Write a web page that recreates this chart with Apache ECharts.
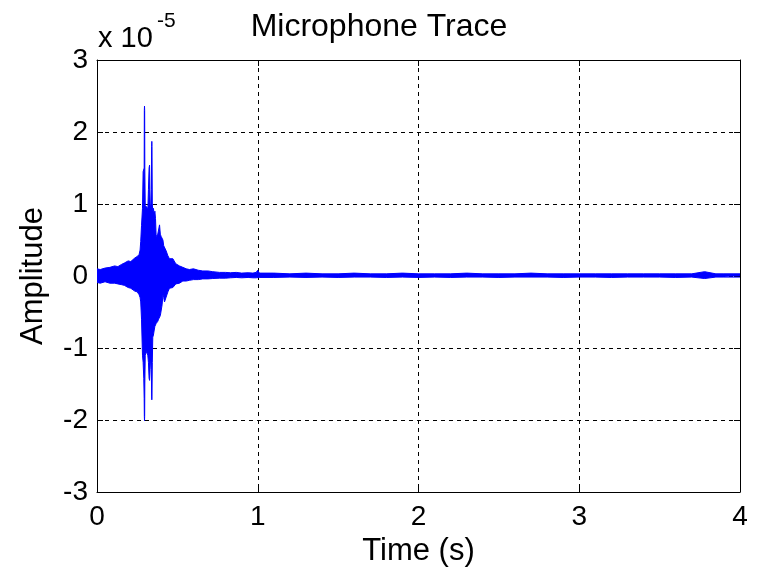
<!DOCTYPE html>
<html>
<head>
<meta charset="utf-8">
<script src="https://cdn.jsdelivr.net/npm/echarts@6/dist/echarts.min.js"></script>
<style>html,body{margin:0;padding:0;background:#fff;}#c{width:758px;height:573px;}</style>
</head>
<body>
<div id="c"></div>
<script>
// Time (s) sample positions of the trace envelope
const timeS = [0, 0.02, 0.05, 0.08, 0.11, 0.13, 0.152, 0.17, 0.194, 0.21, 0.235, 0.25, 0.262, 0.268, 0.272, 0.277, 0.283, 0.287, 0.291, 0.2935, 0.2945, 0.2955, 0.2965, 0.2975, 0.300, 0.304, 0.308, 0.312, 0.316, 0.320, 0.324, 0.327, 0.330, 0.334, 0.338, 0.340, 0.341, 0.342, 0.344, 0.347, 0.351, 0.356, 0.360, 0.364, 0.368, 0.373, 0.378, 0.383, 0.389, 0.394, 0.399, 0.405, 0.41, 0.415, 0.42, 0.43, 0.441, 0.451, 0.461, 0.472, 0.482, 0.49, 0.50, 0.513, 0.534, 0.555, 0.575, 0.6, 0.63, 0.658, 0.69, 0.72, 0.762, 0.8, 0.83, 0.866, 0.9, 0.94, 0.97, 0.99, 1.0, 1.01, 1.1, 1.2, 1.3, 1.4, 1.5, 1.6, 1.7, 1.8, 1.9, 2.0, 2.1, 2.2, 2.3, 2.4, 2.5, 2.6, 2.7, 2.8, 2.9, 3.0, 3.1, 3.2, 3.3, 3.4, 3.5, 3.6, 3.7, 3.78, 3.85, 3.9, 4.0];
// Upper (positive) envelope of the amplitude, in units of 1e-5
const upperE5 = [0.10, 0.09, 0.11, 0.12, 0.14, 0.13, 0.16, 0.18, 0.21, 0.20, 0.25, 0.27, 0.30, 0.36, 0.48, 0.70, 0.94, 1.45, 1.45, 1.50, 2.30, 2.36, 2.30, 1.50, 0.98, 0.98, 1.00, 0.95, 0.90, 1.20, 1.50, 1.54, 1.00, 0.95, 1.20, 1.80, 1.87, 1.80, 1.00, 0.90, 0.94, 0.85, 0.90, 0.80, 0.55, 0.55, 0.58, 0.60, 0.71, 0.58, 0.55, 0.55, 0.50, 0.42, 0.40, 0.35, 0.28, 0.24, 0.22, 0.24, 0.22, 0.17, 0.15, 0.14, 0.12, 0.10, 0.09, 0.10, 0.08, 0.07, 0.07, 0.06, 0.05, 0.05, 0.045, 0.05, 0.04, 0.045, 0.04, 0.05, 0.08, 0.04, 0.04, 0.03, 0.04, 0.03, 0.03, 0.04, 0.03, 0.03, 0.04, 0.03, 0.03, 0.03, 0.04, 0.03, 0.03, 0.03, 0.04, 0.03, 0.03, 0.03, 0.03, 0.03, 0.03, 0.03, 0.03, 0.03, 0.03, 0.06, 0.03, 0.03, 0.03];
// Lower (negative) envelope of the amplitude, in units of 1e-5
const lowerE5 = [-0.09, -0.10, -0.08, -0.10, -0.10, -0.11, -0.12, -0.13, -0.16, -0.17, -0.21, -0.22, -0.26, -0.30, -0.36, -0.60, -1.10, -1.20, -1.42, -1.70, -1.95, -2.01, -1.95, -1.50, -1.10, -1.10, -1.05, -1.05, -1.10, -1.20, -1.42, -1.45, -1.30, -1.10, -1.30, -1.68, -1.72, -1.68, -1.20, -0.85, -0.82, -0.75, -0.70, -0.68, -0.66, -0.64, -0.63, -0.60, -0.58, -0.55, -0.54, -0.40, -0.26, -0.30, -0.36, -0.36, -0.22, -0.17, -0.18, -0.16, -0.14, -0.11, -0.10, -0.10, -0.07, -0.07, -0.06, -0.05, -0.05, -0.04, -0.04, -0.035, -0.03, -0.03, -0.025, -0.02, -0.025, -0.02, -0.025, -0.025, -0.05, -0.02, -0.02, -0.015, -0.02, -0.015, -0.02, -0.015, -0.015, -0.02, -0.015, -0.02, -0.015, -0.02, -0.015, -0.015, -0.02, -0.015, -0.015, -0.015, -0.02, -0.015, -0.015, -0.02, -0.015, -0.015, -0.015, -0.02, -0.015, -0.035, -0.015, -0.015, -0.015];

const xTicks = [0, 1, 2, 3, 4];
const yTicks = [-3, -2, -1, 0, 1, 2, 3];
const titleText = 'Microphone Trace';
const xName = 'Time (s)';
const yName = 'Amplitude';
const expBase = 'x 10';
const expPow = '-5';

const FONT = 'Liberation Sans, Arial, Helvetica, sans-serif';
const BLUE = '#0000ff';

const chart = echarts.init(document.getElementById('c'), null, {renderer: 'canvas'});

const upperData = timeS.map((t, i) => [t, upperE5[i]]);
const lowerData = timeS.map((t, i) => [t, lowerE5[i]]);

const tickCommon = {show: true, inside: true, length: 6, lineStyle: {color: '#000', width: 1}};
const lineCommon = {show: true, onZero: false, lineStyle: {color: '#000', width: 1}};

chart.setOption({
  animation: false,
  backgroundColor: '#fff',
  title: {
    text: titleText,
    left: 'center',
    top: 6,
    textStyle: {fontFamily: FONT, fontSize: 32, fontWeight: 'normal', color: '#000'}
  },
  graphic: [
    {type: 'text', left: 98, top: 24, style: {text: expBase, fontFamily: FONT, fontSize: 29, fill: '#000'}},
    {type: 'text', left: 157, top: 11, style: {text: expPow, fontFamily: FONT, fontSize: 21, fill: '#000'}}
  ],
  grid: {left: 97, right: 18, top: 60, bottom: 81, containLabel: false},
  xAxis: [
    {
      type: 'value', min: xTicks[0], max: xTicks[xTicks.length - 1], interval: 1,
      position: 'bottom',
      name: xName, nameLocation: 'middle', nameGap: 40,
      nameTextStyle: {fontFamily: FONT, fontSize: 31, color: '#000'},
      axisLine: lineCommon, axisTick: tickCommon,
      axisLabel: {fontFamily: FONT, fontSize: 28, color: '#000', margin: 11},
      splitLine: {show: true, lineStyle: {color: '#000', type: [4, 4], width: 1}}
    },
    {
      type: 'value', min: xTicks[0], max: xTicks[xTicks.length - 1], interval: 1,
      position: 'top',
      axisLine: lineCommon, axisTick: tickCommon,
      axisLabel: {show: false}, splitLine: {show: false}
    }
  ],
  yAxis: [
    {
      type: 'value', min: yTicks[0], max: yTicks[yTicks.length - 1], interval: 1,
      position: 'left',
      name: yName, nameLocation: 'middle', nameGap: 48, nameRotate: 90,
      nameTextStyle: {fontFamily: FONT, fontSize: 31, color: '#000'},
      axisLine: lineCommon, axisTick: tickCommon,
      axisLabel: {fontFamily: FONT, fontSize: 28, color: '#000', margin: 9},
      splitLine: {show: true, lineStyle: {color: '#000', type: [4, 4], width: 1}}
    },
    {
      type: 'value', min: yTicks[0], max: yTicks[yTicks.length - 1], interval: 1,
      position: 'right',
      axisLine: lineCommon, axisTick: tickCommon,
      axisLabel: {show: false}, splitLine: {show: false}
    }
  ],
  series: [
    {
      type: 'line', data: upperData, xAxisIndex: 0, yAxisIndex: 0,
      showSymbol: false, symbol: 'none', sampling: null, z: 3,
      lineStyle: {color: BLUE, width: 1},
      areaStyle: {color: BLUE, opacity: 1, origin: 0}
    },
    {
      type: 'line', data: lowerData, xAxisIndex: 0, yAxisIndex: 0,
      showSymbol: false, symbol: 'none', sampling: null, z: 3,
      lineStyle: {color: BLUE, width: 1},
      areaStyle: {color: BLUE, opacity: 1, origin: 0}
    }
  ]
});
</script>
</body>
</html>
